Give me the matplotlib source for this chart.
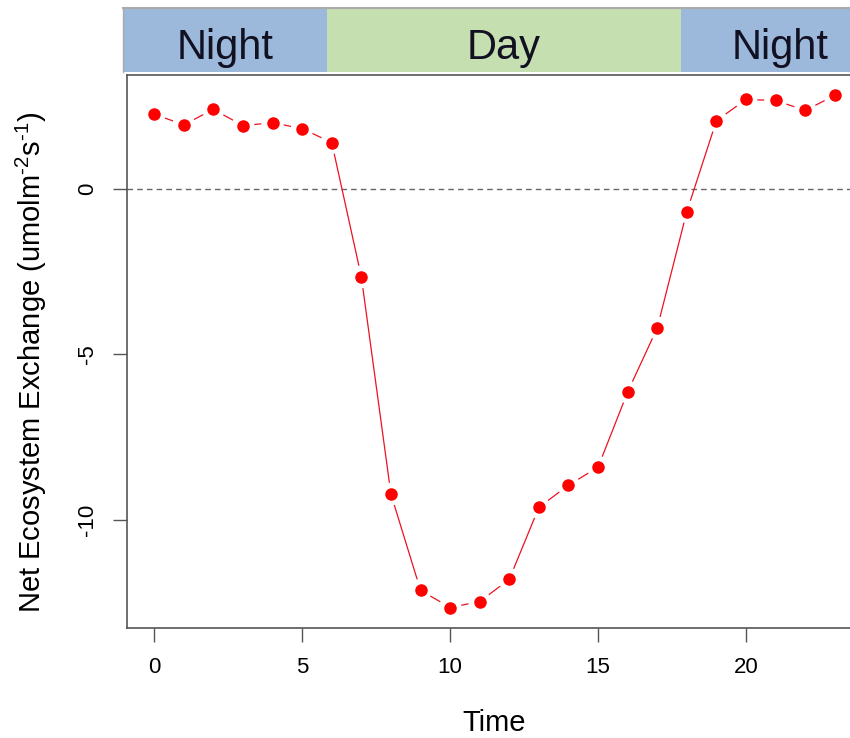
import matplotlib
matplotlib.use('Agg')
import matplotlib.pyplot as plt
import numpy as np

plt.rcParams['font.family'] = ['Liberation Sans', 'DejaVu Sans']
plt.rcParams['axes.unicode_minus'] = False
plt.rcParams['mathtext.fontset'] = 'custom'
plt.rcParams['mathtext.rm'] = 'Liberation Sans'
plt.rcParams['mathtext.it'] = 'Liberation Sans:italic'

# hourly net ecosystem exchange
hours = list(range(24))
nee = [2.24, 1.93, 2.39, 1.90, 1.99, 1.81, 1.39, -2.66, -9.21, -12.11, -12.63, -12.45,
       -11.78, -9.61, -8.94, -8.40, -6.13, -4.20, -0.69, 2.05, 2.69, 2.66, 2.36, 2.81]

# day/night band (hours)
periods = ['Night', 'Day', 'Night']
period_edges = [-1.05, 5.85, 17.8, 24.5]
period_colors = ['#9cb8db', '#c6dfb0', '#9cb8db']

W, H = 850, 738
fig = plt.figure(figsize=(W / 100, H / 100), dpi=100)
ax = fig.add_axes([127 / W, 1 - 628 / H, (862 - 127) / W, (628 - 75) / H])

lo, hi = min(nee), max(nee)
pad = 0.04 * (hi - lo)
ax.set_ylim(lo - pad, hi + pad)
ax.set_xlim(-0.04 * 23, 23 * 1.04)

ax.axhline(0, color='#666666', lw=1, ls=(0, (4, 3)), zorder=1)

# R type="b": segments with a gap around each point
pts = ax.transData.transform(np.column_stack([hours, nee]))
gap = 12
inv = ax.transData.inverted()
for p, q in zip(pts[:-1], pts[1:]):
    d = q - p
    L = np.hypot(*d)
    if L > 2 * gap:
        u = d / L
        seg = inv.transform(np.array([p + u * gap, q - u * gap]))
        ax.plot(seg[:, 0], seg[:, 1], color='#ee1122', lw=0.9, zorder=2)
ax.plot(hours, nee, 'o', color='red', ms=8, zorder=3)

ax.set_xticks([0, 5, 10, 15, 20])
ax.set_yticks([-10, -5, 0])
ax.tick_params(axis='both', length=10, width=1, color='#555555', labelsize=16, pad=11)
for lab in ax.get_yticklabels():
    lab.set_rotation(90)
    lab.set_va('center')
for s in ax.spines.values():
    s.set_color('#555555')
    s.set_linewidth(1.2)

ax.set_xlabel('Time', fontsize=21, labelpad=22)
ax.set_ylabel(r'Net Ecosystem Exchange (umolm$^{\text{-2}}$s$^{\text{-1}}$)', fontsize=21, labelpad=20)
ax.yaxis.label.set_y(0.48)

# top band
band = fig.add_axes([127 / W, 1 - 72 / H, (862 - 127) / W, 64 / H])
band.set_xlim(ax.get_xlim())
band.set_ylim(0, 1)
band.axis('off')
for name, a, b, c in zip(periods, period_edges[:-1], period_edges[1:], period_colors):
    band.axvspan(a, b, color=c, clip_on=False, lw=0)
    band.text((a + b) / 2, 0.37, name, ha='center', va='center', fontsize=30, color='#111122')
band.plot([period_edges[0], period_edges[-1]], [1, 1], color='#aaaaaa', lw=1.5, clip_on=False)
band.plot([period_edges[0], period_edges[0]], [0, 1], color='#aaaaaa', lw=1, clip_on=False)

fig.savefig('out.png', dpi=100)
